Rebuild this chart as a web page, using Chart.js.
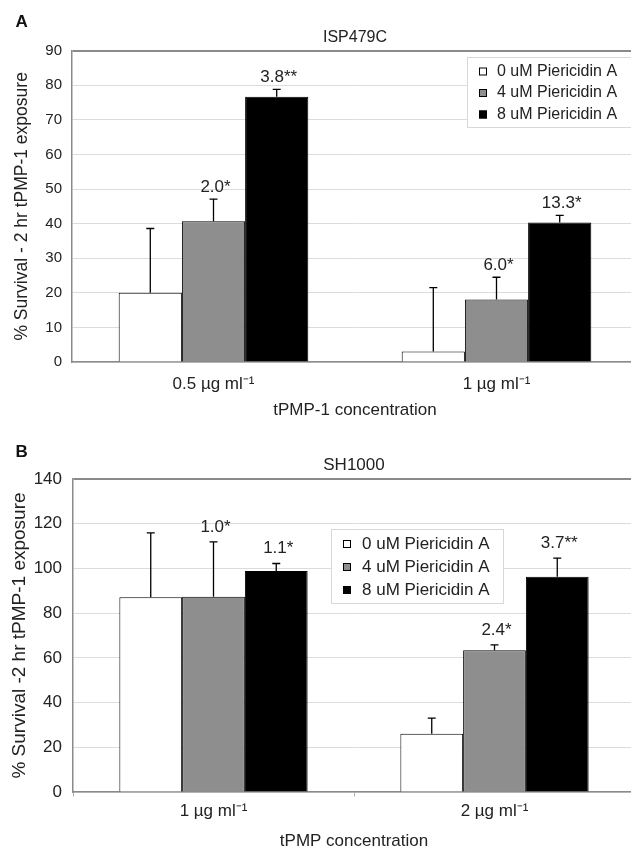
<!DOCTYPE html>
<html>
<head>
<meta charset="utf-8">
<script src="https://cdn.jsdelivr.net/npm/chart.js@4.4.1/dist/chart.umd.min.js"></script>
<style>
    html, body { margin: 0; padding: 0; background: #fff; overflow: hidden; width: 631px; height: 852px; }
    canvas { position: absolute; left: 0; }
    #chartA { top: 0; }
    #chartB { top: 425px; }
</style>
</head>
<body>
<canvas id="chartA" width="660" height="425"></canvas>
<canvas id="chartB" width="660" height="427"></canvas>
<script>
// series names (legend)
const seriesNames = ['0 uM Piericidin A', '4 uM Piericidin A', '8 uM Piericidin A'];

// panel A - ISP479C
const categoriesA = ['0.5 µg ml⁻¹', '1 µg ml⁻¹'];
const survivalA0 = [20.0, 3.0];
const survivalA4 = [40.7, 18.1];
const survivalA8 = [76.7, 40.3];
const errorA0 = [18.6, 18.5];
const errorA4 = [6.4, 6.4];
const errorA8 = [2.1, 2.1];
const foldA0 = ['', ''];
const foldA4 = ['2.0*', '6.0*'];
const foldA8 = ['3.8**', '13.3*'];
const ticksA = [0, 10, 20, 30, 40, 50, 60, 70, 80, 90];

// panel B - SH1000
const categoriesB = ['1 µg ml⁻¹', '2 µg ml⁻¹'];
const survivalB0 = [87.1, 26.0];
const survivalB4 = [87.3, 63.4];
const survivalB8 = [98.8, 96.3];
const errorB0 = [28.8, 7.0];
const errorB4 = [24.6, 2.4];
const errorB8 = [3.4, 8.3];
const foldB0 = ['', ''];
const foldB4 = ['1.0*', '2.4*'];
const foldB8 = ['1.1*', '3.7**'];
const ticksB = [0, 20, 40, 60, 80, 100, 120, 140];

const fillColors = ['#ffffff', '#8e8e8e', '#000000'];
const FONT = '"Liberation Sans", Arial, sans-serif';
const TEXT = '#222';

// error bars (upwards only) + fold labels above them
const errorBarPlugin = {
    id: 'errorBars',
    afterDatasetsDraw(chart) {
        const ctx = chart.ctx;
        const y = chart.scales.y;
        const opts = chart.options.plugins.errorBars;
        ctx.save();
        chart.data.datasets.forEach((ds, i) => {
            const meta = chart.getDatasetMeta(i);
            meta.data.forEach((bar, j) => {
                const top = y.getPixelForValue(ds.data[j] + ds.errors[j]);
                ctx.strokeStyle = '#000';
                ctx.lineWidth = 1.3;
                ctx.beginPath();
                ctx.moveTo(bar.x, bar.y);
                ctx.lineTo(bar.x, top);
                ctx.moveTo(bar.x - 4, top);
                ctx.lineTo(bar.x + 4, top);
                ctx.stroke();
                if (ds.notes[j]) {
                    ctx.fillStyle = TEXT;
                    ctx.font = opts.noteSize + 'px ' + FONT;
                    ctx.textAlign = 'center';
                    ctx.textBaseline = 'middle';
                    ctx.fillText(ds.notes[j], bar.x + 2, top - opts.noteGap);
                }
            });
        });
        ctx.restore();
    }
};

// legend box drawn inside the plot area, panel letter in the corner
const boxLegendPlugin = {
    id: 'boxLegend',
    afterDraw(chart) {
        const o = chart.options.plugins.boxLegend;
        const ctx = chart.ctx;
        ctx.save();
        ctx.fillStyle = '#fff';
        ctx.strokeStyle = '#d8d8d8';
        ctx.lineWidth = 1;
        ctx.fillRect(o.left, o.top, o.width, o.height);
        ctx.strokeRect(o.left + 0.5, o.top + 0.5, o.width, o.height);
        ctx.font = o.size + 'px ' + FONT;
        ctx.textBaseline = 'middle';
        ctx.textAlign = 'left';
        chart.data.datasets.forEach((ds, i) => {
            const cy = o.firstRow + i * o.rowGap;
            ctx.fillStyle = ds.backgroundColor;
            ctx.fillRect(o.markX, cy - 4, 8, 8);
            ctx.strokeStyle = '#000';
            ctx.strokeRect(o.markX + 0.5, cy - 3.5, 7, 7);
            ctx.fillStyle = TEXT;
            ctx.fillText(ds.label, o.textX, cy);
        });
        ctx.font = 'bold 17px ' + FONT;
        ctx.fillStyle = '#111';
        ctx.fillText(o.letter, o.letterX, o.letterY);
        ctx.restore();
    }
};

function makeDatasets(values, errors, notes) {
    return values.map((v, i) => ({
        label: seriesNames[i],
        data: v,
        errors: errors[i],
        notes: notes[i],
        backgroundColor: fillColors[i],
        borderColor: '#000',
        borderWidth: 1,
        categoryPercentage: 0.67,
        barPercentage: 1.0
    }));
}

function makeChart(id, p) {
    const ctx = document.getElementById(id);
    const config = {
        type: 'bar',
        data: {
            labels: p.labels,
            datasets: makeDatasets(p.values, p.errors, p.notes)
        },
        options: {
            responsive: false,
            animation: false,
            layout: { padding: { left: 0, right: p.padRight, top: 0, bottom: 0 } },
            plugins: {
                legend: { display: false },
                tooltip: { enabled: false },
                title: {
                    display: true,
                    text: p.title,
                    fullSize: false,
                    color: TEXT,
                    font: { family: FONT, size: p.titleSize, weight: 'normal', lineHeight: 1.2 },
                    padding: { top: p.titleTop, bottom: p.titleBottom }
                },
                errorBars: { noteSize: p.noteSize, noteGap: p.noteGap },
                boxLegend: p.legend
            },
            scales: {
                x: {
                    grid: {
                        display: p.xTickMarks > 0,
                        drawOnChartArea: false,
                        drawTicks: p.xTickMarks > 0,
                        tickLength: p.xTickMarks,
                        color: '#b0b0b0'
                    },
                    border: { display: true, color: '#8a8a8a', width: 1.5 },
                    ticks: { color: TEXT, font: { family: FONT, size: p.xTickSize }, padding: p.xTickPad, maxRotation: 0 },
                    title: {
                        display: true,
                        text: p.xTitle,
                        color: TEXT,
                        font: { family: FONT, size: p.xTitleSize },
                        padding: { top: 0, bottom: p.xTitleBottom }
                    },
                    afterFit: (s) => { s.height = p.xHeight; }
                },
                y: {
                    min: p.yTicks[0],
                    max: p.yTicks[p.yTicks.length - 1],
                    afterBuildTicks: (s) => { s.ticks = p.yTicks.map(v => ({ value: v })); },
                    grid: {
                        drawTicks: false,
                        color: (c) => c.tick && c.tick.value === p.yTicks[p.yTicks.length - 1] ? '#8a8a8a' : '#dcdcdc',
                        lineWidth: (c) => c.tick && c.tick.value === p.yTicks[p.yTicks.length - 1] ? 2 : 1
                    },
                    border: { display: true, color: '#8a8a8a', width: 1.5 },
                    ticks: { color: TEXT, font: { family: FONT, size: p.yTickSize }, padding: p.yTickPad },
                    title: {
                        display: true,
                        text: p.yTitle,
                        color: TEXT,
                        font: { family: FONT, size: p.yTitleSize },
                        padding: { top: p.yTitleTop, bottom: 0 }
                    },
                    afterFit: (s) => { s.width = p.yWidth; }
                }
            }
        },
        plugins: [errorBarPlugin, boxLegendPlugin]
    };
    return new Chart(ctx, config);
}

let chartA = makeChart('chartA', {
    labels: categoriesA,
    values: [survivalA0, survivalA4, survivalA8],
    errors: [errorA0, errorA4, errorA8],
    notes: [foldA0, foldA4, foldA8],
    yTicks: ticksA,
    title: 'ISP479C', titleSize: 16, titleTop: 28.4, titleBottom: 3.1,
    xTitle: 'tPMP-1 concentration', xTitleSize: 17, xTitleBottom: 4.8,
    xTickSize: 17, xTickPad: 12, xHeight: 63, xTickMarks: 0,
    yTitle: '% Survival - 2 hr tPMP-1 exposure', yTitleSize: 17.5, yTitleTop: 11.5,
    yTickSize: 15, yTickPad: 10, yWidth: 72,
    padRight: 22,
    noteSize: 17, noteGap: 12,
    legend: { letter: 'A', letterX: 15.5, letterY: 22, left: 467, top: 57, width: 170, height: 70,
              markX: 479, textX: 497, firstRow: 71.5, rowGap: 21.5, size: 16 }
});

let chartB = makeChart('chartB', {
    labels: categoriesB,
    values: [survivalB0, survivalB4, survivalB8],
    errors: [errorB0, errorB4, errorB8],
    notes: [foldB0, foldB4, foldB8],
    yTicks: ticksB,
    title: 'SH1000', titleSize: 17, titleTop: 29.8, titleBottom: 3.8,
    xTitle: 'tPMP concentration', xTitleSize: 17, xTitleBottom: 0,
    xTickSize: 17, xTickPad: 5, xHeight: 60, xTickMarks: 4.5,
    yTitle: '% Survival -2 hr tPMP-1 exposure', yTitleSize: 19, yTitleTop: 8.6,
    yTickSize: 17, yTickPad: 11, yWidth: 73,
    padRight: 25,
    noteSize: 17, noteGap: 15,
    legend: { letter: 'B', letterX: 15.5, letterY: 27, left: 331, top: 104, width: 172, height: 74,
              markX: 343, textX: 362, firstRow: 119, rowGap: 23, size: 17 }
});
</script>
</body>
</html>
